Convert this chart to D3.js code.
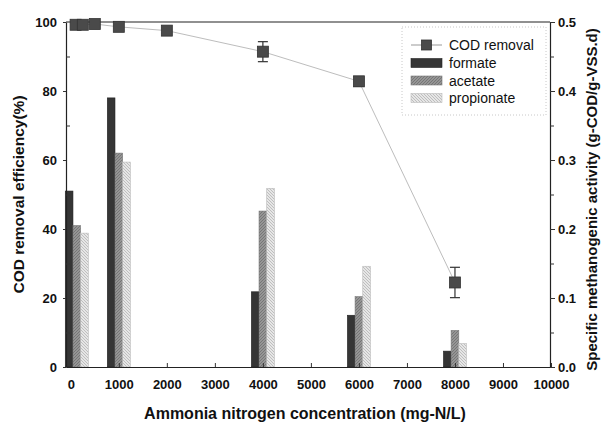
<!DOCTYPE html>
<html>
<head>
<meta charset="utf-8">
<script src="https://cdn.jsdelivr.net/npm/d3@7"></script>
<style>
  body { margin: 0; background: #fff; }
  text { font-family: "Liberation Sans", Arial, sans-serif; fill: #111; }
</style>
</head>
<body>
<div id="chart-area"></div>
<script>
// ammonia concentrations for the bar groups (first group drawn just right of 0)
var barX = [125, 1000, 4000, 6000, 8000];
var formate = [0.255, 0.390, 0.109, 0.075, 0.023];
var acetate = [0.205, 0.310, 0.226, 0.102, 0.053];
var propionate = [0.194, 0.297, 0.259, 0.146, 0.034];

// COD removal line
var codX = [100, 250, 500, 1000, 2000, 4000, 6000, 8000];
var codY = [99.2, 99.2, 99.4, 98.6, 97.5, 91.4, 82.8, 24.5];
var codErr = [0, 0, 0, 0.4, 0.8, 2.9, 1.4, 4.4];

var xTicks = [0, 1000, 2000, 3000, 4000, 5000, 6000, 7000, 8000, 9000, 10000];
var yTicks = [0, 20, 40, 60, 80, 100];
var y2Ticks = [0.0, 0.1, 0.2, 0.3, 0.4, 0.5];
var seriesNames = ["formate", "acetate", "propionate"];

var W = 604, H = 424;
var L = 66, R = 550, T = 22, B = 367;

var svg = d3.select("#chart-area").append("svg")
            .attr("width", W)
            .attr("height", H);

var x = d3.scaleLinear().domain([-100, 10000]).range([L, R + 1]);
var y = d3.scaleLinear().domain([0, 100]).range([B, T]);
var y2 = d3.scaleLinear().domain([0, 0.5]).range([B, T]);

// hatch patterns
var defs = svg.append("defs");
function hatch(id, bg, line, dir) {
  var p = defs.append("pattern")
              .attr("id", id)
              .attr("patternUnits", "userSpaceOnUse")
              .attr("width", 3).attr("height", 3);
  p.append("rect").attr("width", 3).attr("height", 3).attr("fill", bg);
  p.append("path")
   .attr("d", dir > 0 ? "M0,3 L3,0 M-1,1 L1,-1 M2,4 L4,2" : "M0,0 L3,3 M-1,2 L1,4 M2,-1 L4,1")
   .attr("stroke", line).attr("stroke-width", 0.8);
}
hatch("hatchA", "#959595", "#6e6e6e", 1);
hatch("hatchP", "#e6e6e6", "#b4b4b4", -1);

var fills = ["#353535", "url(#hatchA)", "url(#hatchP)"];
var strokes = ["#222", "#777", "#bbb"];
var barW = x(160) - x(0);

// bars
var barData = [];
barX.forEach((c, i) => {
  [formate[i], acetate[i], propionate[i]].forEach((v, k) => {
    barData.push({c: c, v: v, k: k});
  });
});
svg.selectAll("rect.bar")
   .data(barData)
   .enter()
   .append("rect")
     .attr("class", "bar")
     .attr("x", (d) => x(d.c) + (d.k - 1.5) * barW)
     .attr("y", (d) => y2(d.v))
     .attr("width", barW)
     .attr("height", (d) => B - y2(d.v))
     .attr("fill", (d) => fills[d.k])
     .attr("stroke", (d) => strokes[d.k])
     .attr("stroke-width", 0.6);

// frame
svg.append("line").attr("x1", L).attr("x2", R).attr("y1", T).attr("y2", T)
   .attr("stroke", "#222").attr("stroke-width", 1.2);

// bottom axis (ticks inward)
var xAxis = svg.append("g")
   .attr("transform", "translate(0," + B + ")")
   .call(d3.axisBottom(x).tickValues(xTicks).tickFormat(d3.format("d"))
         .tickSizeInner(-4).tickSizeOuter(0).tickPadding(10));
xAxis.selectAll("text").attr("font-size", 13).attr("font-weight", "bold").attr("dy", "0.9em");

// left axis
var yAxis = svg.append("g")
   .attr("transform", "translate(" + L + ",0)")
   .call(d3.axisLeft(y).tickValues(yTicks).tickSizeInner(3).tickSizeOuter(0).tickPadding(6));
yAxis.selectAll("text").attr("font-size", 13).attr("font-weight", "bold");
svg.append("g")
   .attr("transform", "translate(" + L + ",0)")
   .call(d3.axisLeft(y).tickValues([10, 30, 50, 70, 90]).tickSizeInner(-4).tickSizeOuter(0).tickFormat(""))
   .select(".domain").remove();

// right axis
var y2Axis = svg.append("g")
   .attr("transform", "translate(" + R + ",0)")
   .call(d3.axisRight(y2).tickValues(y2Ticks).tickSizeInner(5).tickSizeOuter(0).tickPadding(3)
         .tickFormat(d3.format(".1f")));
y2Axis.selectAll("text").attr("font-size", 13).attr("font-weight", "bold");
svg.append("g")
   .attr("transform", "translate(" + R + ",0)")
   .call(d3.axisRight(y2).tickValues([0.05, 0.15, 0.25, 0.35, 0.45]).tickSizeInner(4).tickSizeOuter(0).tickFormat(""))
   .select(".domain").remove();

svg.selectAll(".domain").attr("stroke", "#222").attr("stroke-width", 1.2);
svg.selectAll(".tick line").attr("stroke", "#333");

// COD removal line
var cod = codX.map((d, i) => ({x: d, y: codY[i], e: codErr[i]}));
svg.append("path")
   .datum(cod)
   .attr("d", d3.line().x((d) => x(d.x)).y((d) => y(d.y)))
   .attr("fill", "none")
   .attr("stroke", "#bdbdbd")
   .attr("stroke-width", 1);

var eb = svg.selectAll("g.err")
   .data(cod.filter((d) => d.e > 0))
   .enter().append("g").attr("class", "err")
   .attr("stroke", "#333").attr("stroke-width", 1.2);
eb.append("line")
  .attr("x1", (d) => x(d.x)).attr("x2", (d) => x(d.x))
  .attr("y1", (d) => y(d.y + d.e)).attr("y2", (d) => y(d.y - d.e));
eb.append("line")
  .attr("x1", (d) => x(d.x) - 5).attr("x2", (d) => x(d.x) + 5)
  .attr("y1", (d) => y(d.y + d.e)).attr("y2", (d) => y(d.y + d.e));
eb.append("line")
  .attr("x1", (d) => x(d.x) - 5).attr("x2", (d) => x(d.x) + 5)
  .attr("y1", (d) => y(d.y - d.e)).attr("y2", (d) => y(d.y - d.e));

svg.selectAll("rect.pt")
   .data(cod)
   .enter().append("rect")
     .attr("class", "pt")
     .attr("x", (d) => x(d.x) - 5.5)
     .attr("y", (d) => y(d.y) - 5.5)
     .attr("width", 11).attr("height", 11)
     .attr("fill", "#4a4a4a")
     .attr("stroke", "#333")
     .attr("stroke-width", 0.8);

// axis titles
svg.append("text")
   .attr("x", 305).attr("y", 419)
   .attr("text-anchor", "middle")
   .attr("font-size", 16).attr("font-weight", "bold")
   .text("Ammonia nitrogen concentration (mg-N/L)");
svg.append("text")
   .attr("transform", "translate(24," + ((T + B) / 2) + ") rotate(-90)")
   .attr("text-anchor", "middle")
   .attr("font-size", 15.5).attr("font-weight", "bold")
   .text("COD removal efficiency(%)");
svg.append("text")
   .attr("transform", "translate(597," + ((T + B) / 2 + 5) + ") rotate(-90)")
   .attr("text-anchor", "middle")
   .attr("font-size", 15).attr("font-weight", "bold")
   .text("Specific methanogenic activity (g-COD/g-VSS.d)");

// legend
var lg = svg.append("g").attr("transform", "translate(402,27)");
lg.append("rect")
  .attr("width", 144).attr("height", 88)
  .attr("fill", "#fff")
  .attr("stroke", "#c8c8c8")
  .attr("stroke-dasharray", "1,2");
lg.append("line").attr("x1", 9).attr("x2", 40).attr("y1", 18).attr("y2", 18)
  .attr("stroke", "#999").attr("stroke-width", 1);
lg.append("rect").attr("x", 19.5).attr("y", 13).attr("width", 10).attr("height", 10)
  .attr("fill", "#4a4a4a").attr("stroke", "#333").attr("stroke-width", 0.8);
lg.append("text").attr("x", 47).attr("y", 23).attr("font-size", 14).attr("fill", "#2a2a2a")
  .text("COD removal");
seriesNames.forEach((n, i) => {
  var yy = 36 + i * 17.5;
  lg.append("rect").attr("x", 9).attr("y", yy - 4.5).attr("width", 31).attr("height", 9)
    .attr("fill", fills[i]).attr("stroke", strokes[i]).attr("stroke-width", 0.6);
  lg.append("text").attr("x", 47).attr("y", yy + 5).attr("font-size", 14).attr("fill", "#2a2a2a")
    .text(n);
});
</script>
</body>
</html>
